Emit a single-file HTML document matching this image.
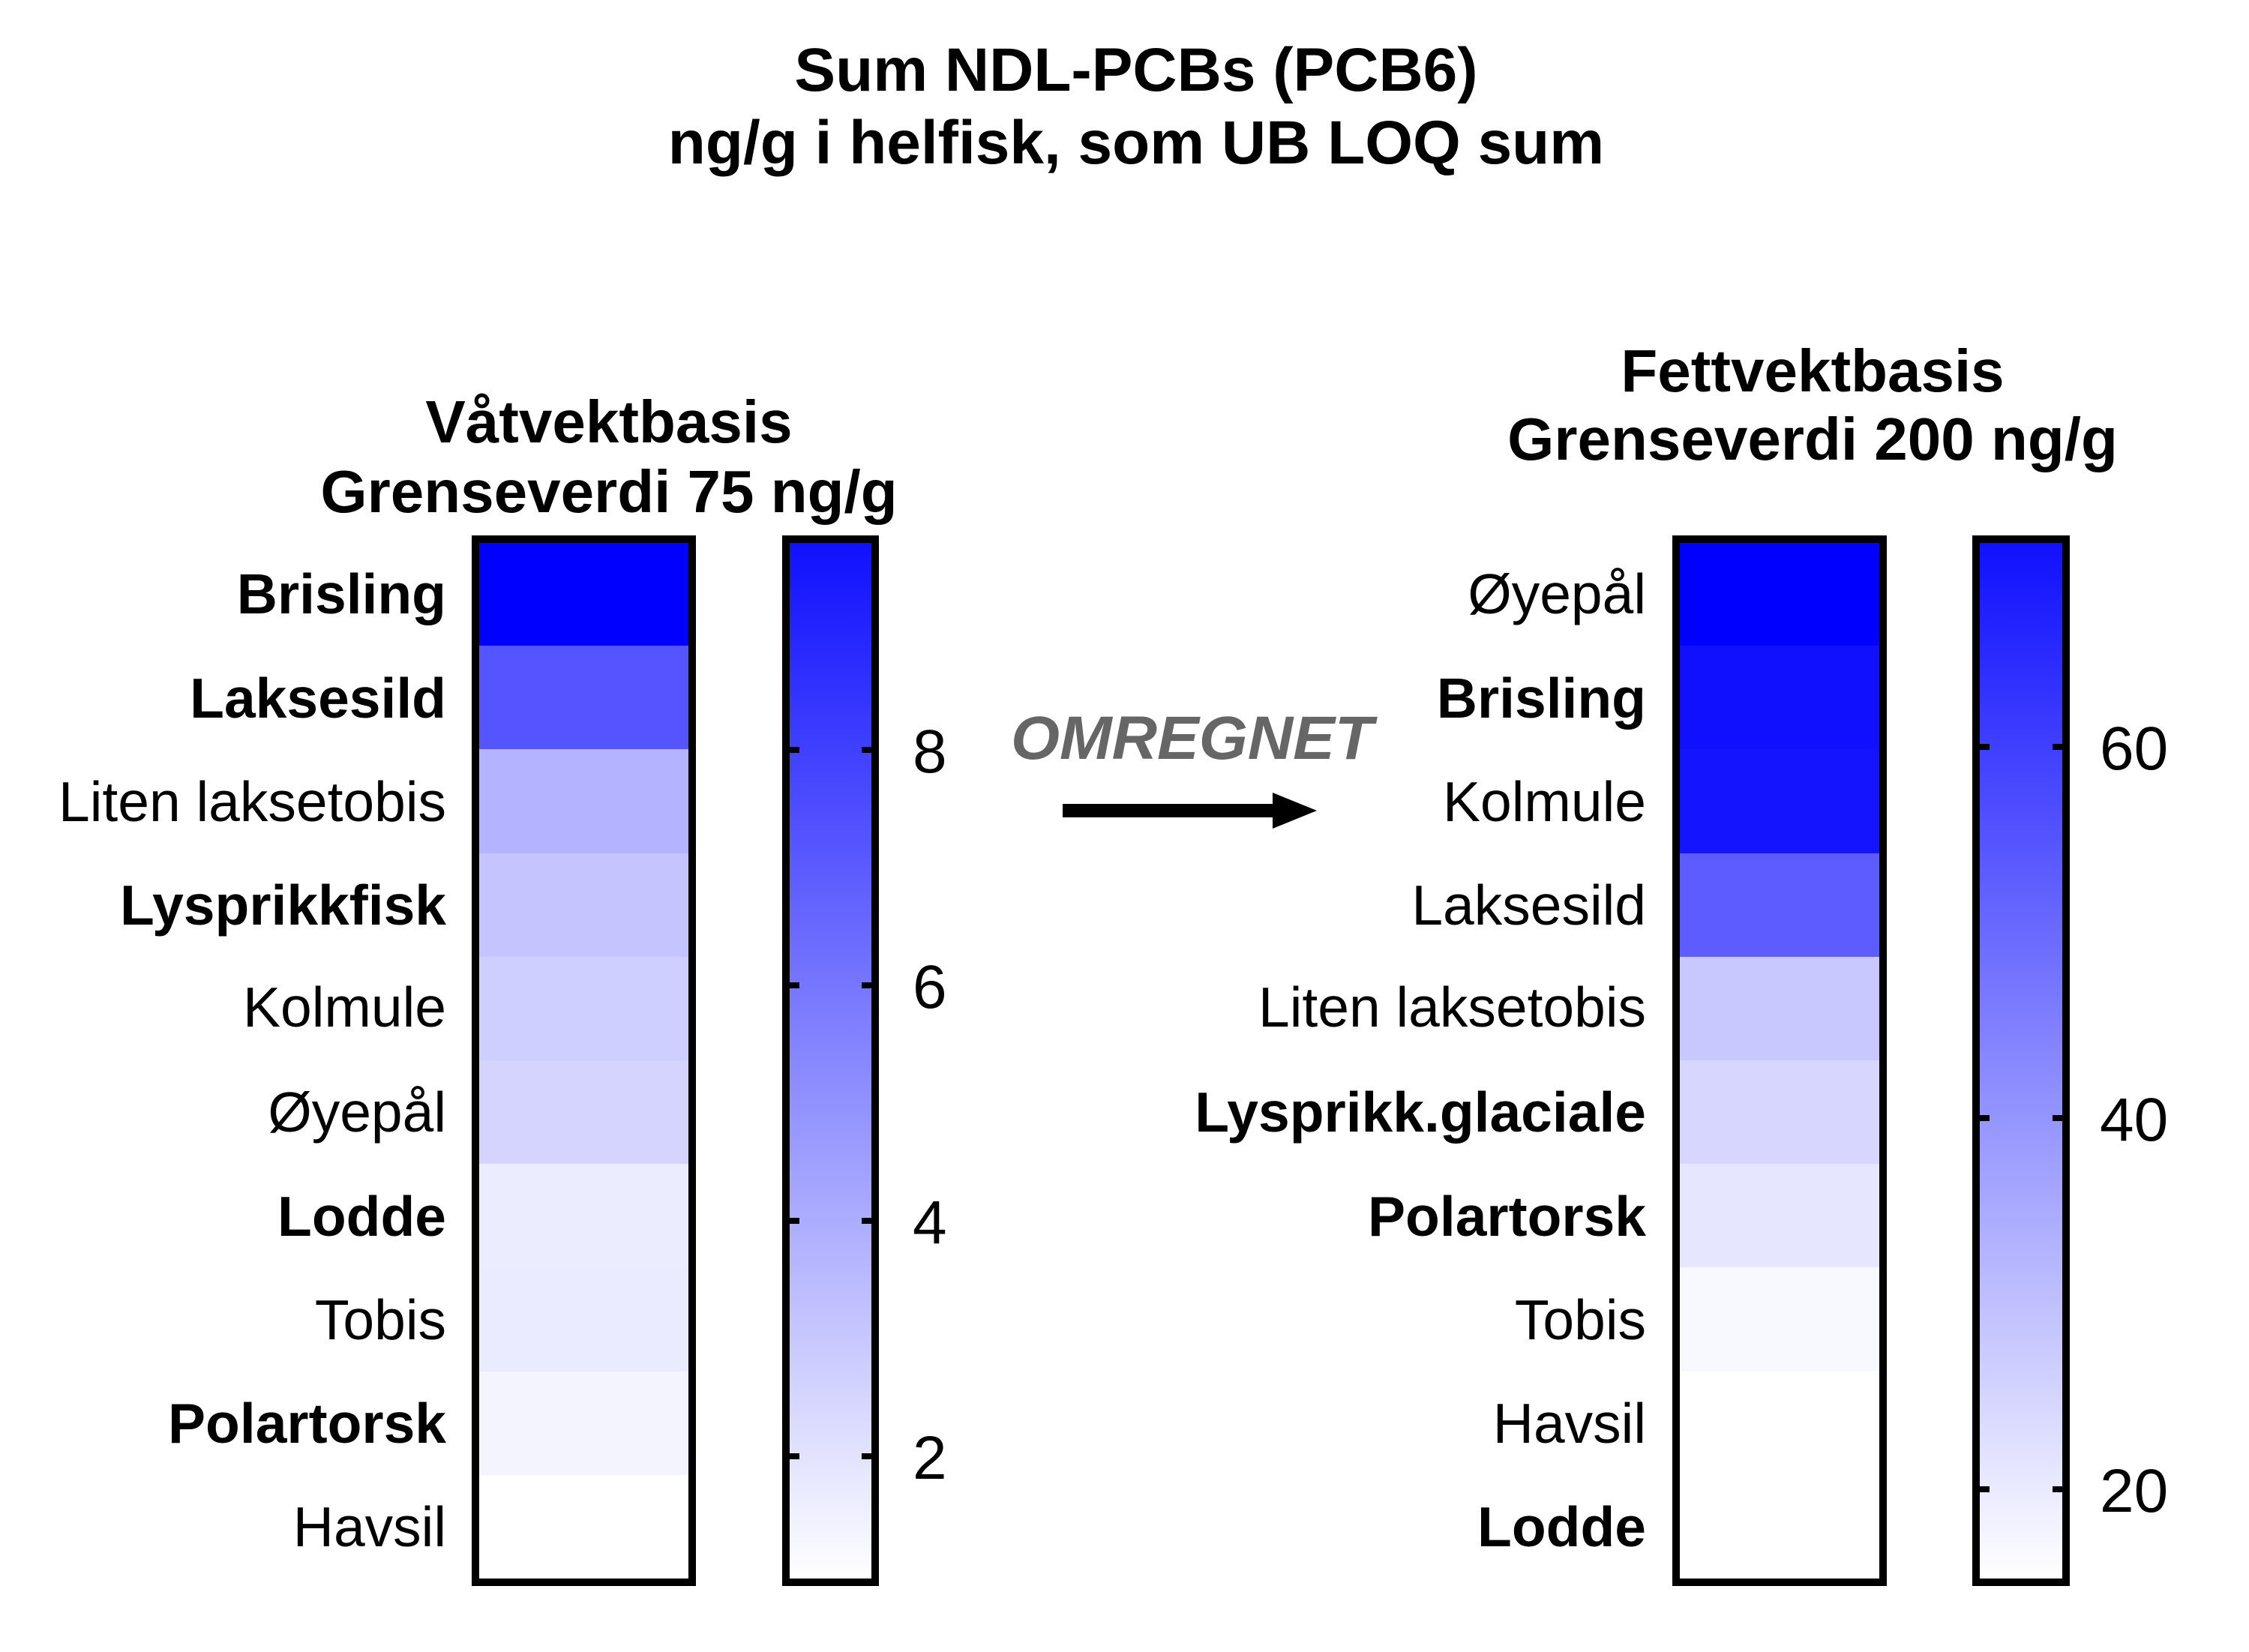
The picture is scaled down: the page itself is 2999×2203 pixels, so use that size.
<!DOCTYPE html>
<html><head><meta charset="utf-8"><style>
html,body{margin:0;padding:0;background:#fff;}
svg{display:block;}
text{font-family:"Liberation Sans",Arial,sans-serif;fill:#000;}
.b{font-weight:bold;}
</style></head><body>
<svg width="2999" height="2203" viewBox="0 0 2999 2203" xmlns="http://www.w3.org/2000/svg">
<defs>
<linearGradient id="g" x1="0" y1="1" x2="0" y2="0">
<stop offset="0" stop-color="#ffffff"/>
<stop offset="1" stop-color="#1010ff"/>
</linearGradient>
</defs>
<text x="1515" y="121" font-size="82" class="b" text-anchor="middle">Sum NDL-PCBs (PCB6)</text>
<text x="1515" y="218" font-size="82" class="b" text-anchor="middle">ng/g i helfisk, som UB LOQ sum</text>

<text x="812" y="590" font-size="80" class="b" text-anchor="middle">Våtvektbasis</text>
<text x="812" y="683" font-size="80" class="b" text-anchor="middle">Grenseverdi 75 ng/g</text>
<text x="2417" y="522" font-size="80" class="b" text-anchor="middle">Fettvektbasis</text>
<text x="2417" y="613" font-size="80" class="b" text-anchor="middle">Grenseverdi 200 ng/g</text>

<!-- left heatmap -->
<g>
<rect x="634" y="723" width="289" height="139" fill="#0000ff"/>
<rect x="634" y="861" width="289" height="139" fill="#5555ff"/>
<rect x="634" y="999" width="289" height="139" fill="#b3b3ff"/>
<rect x="634" y="1138" width="289" height="139" fill="#c4c4ff"/>
<rect x="634" y="1276" width="289" height="139" fill="#cfcfff"/>
<rect x="634" y="1414" width="289" height="139" fill="#d4d4ff"/>
<rect x="634" y="1552" width="289" height="139" fill="#ececff"/>
<rect x="634" y="1690" width="289" height="139" fill="#ebebff"/>
<rect x="634" y="1829" width="289" height="139" fill="#f4f4ff"/>
<rect x="634" y="1967" width="289" height="139" fill="#ffffff"/>
<rect x="634" y="719" width="289" height="1391" fill="none" stroke="#000" stroke-width="10"/>
</g>
<g font-size="75" text-anchor="end">
<text x="595" y="818" class="b">Brisling</text>
<text x="595" y="957" class="b">Laksesild</text>
<text x="595" y="1095">Liten laksetobis</text>
<text x="595" y="1233" class="b">Lysprikkfisk</text>
<text x="595" y="1369">Kolmule</text>
<text x="595" y="1509">Øyepål</text>
<text x="595" y="1648" class="b">Lodde</text>
<text x="595" y="1786">Tobis</text>
<text x="595" y="1924" class="b">Polartorsk</text>
<text x="595" y="2062">Havsil</text>
</g>
<!-- left colorbar -->
<rect x="1048" y="723" width="119" height="1383" fill="url(#g)"/>
<rect x="1048" y="719" width="119" height="1391" fill="none" stroke="#000" stroke-width="10"/>
<g stroke="#000" stroke-width="8">
<line x1="1048" y1="1000" x2="1066" y2="1000"/><line x1="1149" y1="1000" x2="1167" y2="1000"/>
<line x1="1048" y1="1314" x2="1066" y2="1314"/><line x1="1149" y1="1314" x2="1167" y2="1314"/>
<line x1="1048" y1="1628" x2="1066" y2="1628"/><line x1="1149" y1="1628" x2="1167" y2="1628"/>
<line x1="1048" y1="1942" x2="1066" y2="1942"/><line x1="1149" y1="1942" x2="1167" y2="1942"/>
</g>
<g font-size="82">
<text x="1217" y="1030">8</text>
<text x="1217" y="1344">6</text>
<text x="1217" y="1658">4</text>
<text x="1217" y="1972">2</text>
</g>

<!-- arrow -->
<text x="1348" y="1012" font-size="82" class="b" font-style="italic" style="fill:#666" textLength="483" lengthAdjust="spacingAndGlyphs">OMREGNET</text>
<rect x="1417" y="1072" width="282" height="18" fill="#000"/>
<polygon points="1697,1057 1756,1081 1697,1105" fill="#000"/>

<!-- right heatmap -->
<g>
<rect x="2235" y="723" width="276" height="139" fill="#0000ff"/>
<rect x="2235" y="861" width="276" height="139" fill="#1010ff"/>
<rect x="2235" y="999" width="276" height="139" fill="#1414ff"/>
<rect x="2235" y="1138" width="276" height="139" fill="#5c5cff"/>
<rect x="2235" y="1276" width="276" height="139" fill="#c8c8ff"/>
<rect x="2235" y="1414" width="276" height="139" fill="#d6d6ff"/>
<rect x="2235" y="1552" width="276" height="139" fill="#e6e6ff"/>
<rect x="2235" y="1690" width="276" height="139" fill="#f8f8ff"/>
<rect x="2235" y="1829" width="276" height="139" fill="#ffffff"/>
<rect x="2235" y="1967" width="276" height="139" fill="#ffffff"/>
<rect x="2235" y="719" width="276" height="1391" fill="none" stroke="#000" stroke-width="10"/>
</g>
<g font-size="75" text-anchor="end">
<text x="2195" y="818">Øyepål</text>
<text x="2195" y="957" class="b">Brisling</text>
<text x="2195" y="1095">Kolmule</text>
<text x="2195" y="1233">Laksesild</text>
<text x="2195" y="1369">Liten laksetobis</text>
<text x="2195" y="1509" class="b">Lysprikk.glaciale</text>
<text x="2195" y="1648" class="b">Polartorsk</text>
<text x="2195" y="1786">Tobis</text>
<text x="2195" y="1924">Havsil</text>
<text x="2195" y="2062" class="b">Lodde</text>
</g>
<!-- right colorbar -->
<rect x="2635" y="723" width="120" height="1383" fill="url(#g)"/>
<rect x="2635" y="719" width="120" height="1391" fill="none" stroke="#000" stroke-width="10"/>
<g stroke="#000" stroke-width="8">
<line x1="2635" y1="996" x2="2653" y2="996"/><line x1="2737" y1="996" x2="2755" y2="996"/>
<line x1="2635" y1="1491" x2="2653" y2="1491"/><line x1="2737" y1="1491" x2="2755" y2="1491"/>
<line x1="2635" y1="1986" x2="2653" y2="1986"/><line x1="2737" y1="1986" x2="2755" y2="1986"/>
</g>
<g font-size="82">
<text x="2800" y="1026">60</text>
<text x="2800" y="1521">40</text>
<text x="2800" y="2016">20</text>
</g>
</svg>
</body></html>
